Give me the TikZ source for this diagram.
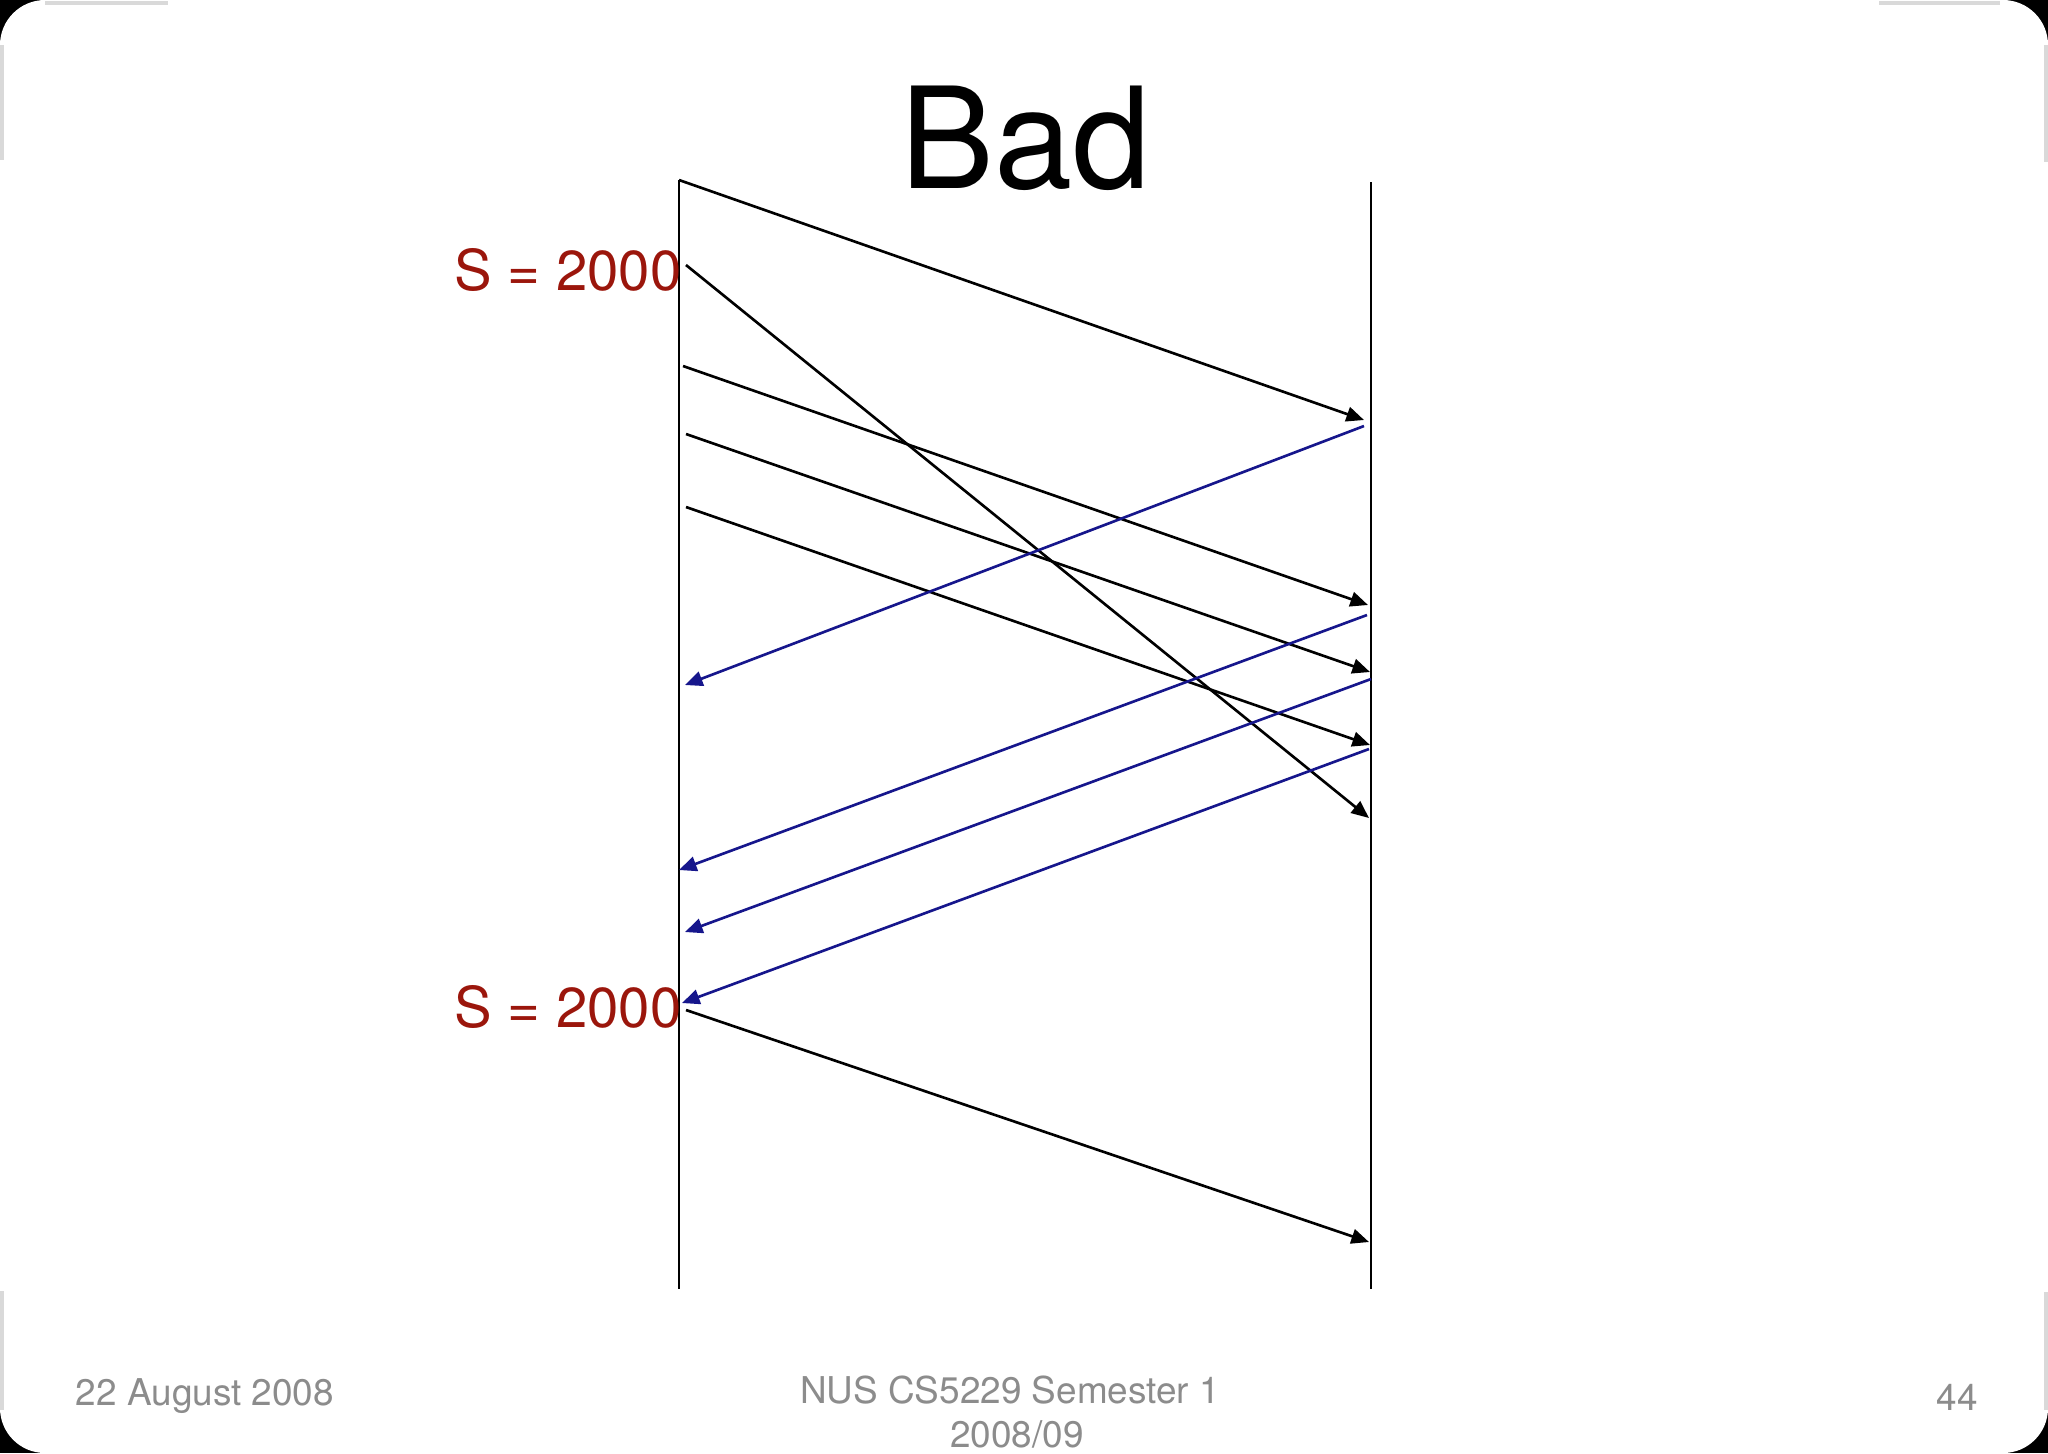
\documentclass[tikz,border=0pt]{standalone}
\usepackage{fontspec}
\setmainfont{TeX Gyre Heros}
\usetikzlibrary{arrows.meta}
\definecolor{seqred}{RGB}{155,22,12}
\definecolor{ackblue}{RGB}{22,22,140}
\definecolor{footgray}{RGB}{140,140,140}
\begin{document}
\begin{tikzpicture}[x=0.01cm,y=-0.01cm,life/.style={line width=0.6pt},seg/.style={line width=0.75pt,-{Triangle[length=5pt,width=4.2pt]}},ack/.style={seg,ackblue},seqno/.style={anchor=base east,inner sep=0pt,seqred,font=\fontsize{16}{19}\selectfont},foot/.style={anchor=base,inner sep=0pt,footgray,font=\fontsize{10.5}{12.5}\selectfont},rim/.style={gray!30,line width=1pt}]
\def\xl{679};
\def\xr{1371};
\def\ytop{180};
\def\ybot{1289};

\fill[black] (0,0) rectangle (2048,1453);
\fill[white,rounded corners=0.45cm] (0,0) rectangle (2048,1453);
\draw[rim] (45,3) -- (168,3);
\draw[rim] (2,45) -- (2,160);
\draw[rim] (1879,3) -- (2000,3);
\draw[rim] (2046,45) -- (2046,162);
\draw[rim] (2,1291) -- (2,1410);
\draw[rim] (2046,1292) -- (2046,1410);

\node[anchor=base,inner sep=0pt,font=\fontsize{40}{48}\selectfont] (title) at (1026,188) {Bad};

\coordinate (L0) at (\xl,\ytop);
\coordinate (L1) at (\xl,\ybot);
\draw[life] (L0) -- (L1);
\coordinate (R0) at (\xr,\ytop+2);
\coordinate (R1) at (\xr,\ybot);
\draw[life] (R0) -- (R1);

\node[seqno] (seqA) at (682,290) {S = 2000};
\node[seqno] (seqB) at (682,1027) {S = 2000};

\coordinate (d2s) at (686,265);
\coordinate (d3s) at (683,366);
\coordinate (d4s) at (686,434);
\coordinate (d5s) at (686,507);
\coordinate (d6s) at (686,1010);
\coordinate (d1e) at (1364,420);
\coordinate (d2e) at (1369,818);
\coordinate (d3e) at (1368,605);
\coordinate (d4e) at (1370,672);
\coordinate (d5e) at (1370,745);
\coordinate (d6e) at (1369,1242);
\draw[seg] (L0) -- (d1e);
\draw[seg] (d2s) -- (d2e);
\draw[seg] (d3s) -- (d3e);
\draw[seg] (d4s) -- (d4e);
\draw[seg] (d5s) -- (d5e);
\draw[seg] (d6s) -- (d6e);

\coordinate (a1s) at (1364,426);
\coordinate (a2s) at (1367,615);
\coordinate (a3s) at (1371,679);
\coordinate (a4s) at (1369,749);
\coordinate (a1e) at (685,685);
\coordinate (a2e) at (679,870);
\coordinate (a3e) at (685,932);
\coordinate (a4e) at (682,1003);
\draw[ack] (a1s) -- (a1e);
\draw[ack] (a2s) -- (a2e);
\draw[ack] (a3s) -- (a3e);
\draw[ack] (a4s) -- (a4e);

\node[foot] (date) at (205,1405) {22 August 2008};
\node[foot] (course) at (1010,1403) {NUS CS5229 Semester 1};
\node[foot] (term) at (1017,1447) {2008/09};
\node[foot] (page) at (1957,1410) {44};
\end{tikzpicture}
\end{document}
